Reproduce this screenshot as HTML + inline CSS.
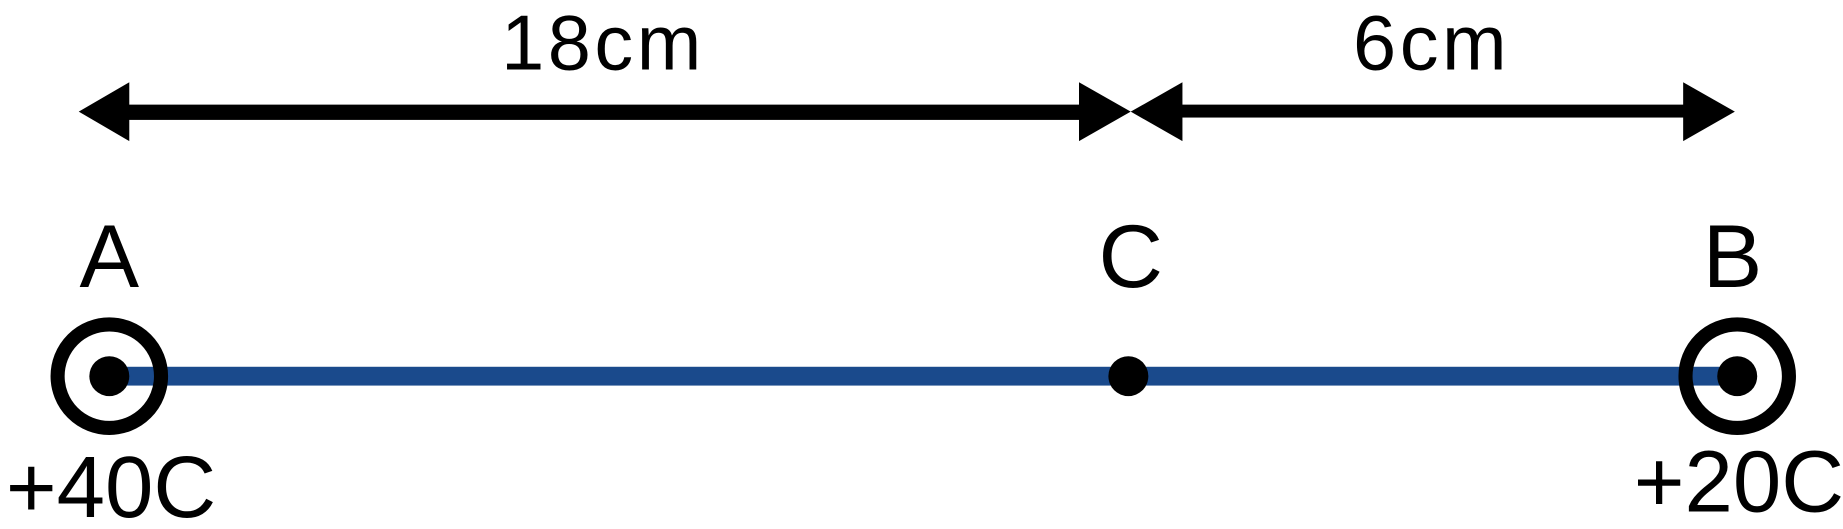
<!DOCTYPE html>
<html><head><meta charset="utf-8"><style>
html,body{margin:0;padding:0;background:#fff;}
svg{display:block;}
text{font-family:"Liberation Sans",sans-serif;fill:#000;}
</style></head><body>
<svg width="1843" height="529" viewBox="0 0 1568 450" preserveAspectRatio="none">
<g>
<rect x="105" y="89" width="818" height="13" fill="#000"/>
<polygon points="67,95 110,70 110,120" fill="#000"/>
<polygon points="962,95 918,70 918,120" fill="#000"/>
</g>
<g>
<rect x="1000" y="89" width="438" height="11" fill="#000"/>
<polygon points="962,95 1006,70 1006,120" fill="#000"/>
<polygon points="1476,95 1432,70 1432,120" fill="#000"/>
</g>
<text x="513" y="59" font-size="66" text-anchor="middle" letter-spacing="3">18cm</text>
<text x="1218" y="59" font-size="66" text-anchor="middle" letter-spacing="3">6cm</text>
<text x="93" y="244" font-size="76" text-anchor="middle">A</text>
<text x="962" y="244" font-size="76" text-anchor="middle">C</text>
<text x="1474" y="244" font-size="76" text-anchor="middle">B</text>
<rect x="93" y="312" width="1385" height="16" fill="#1a4a8c"/>
<circle cx="93" cy="320" r="44" fill="none" stroke="#000" stroke-width="12"/>
<circle cx="93" cy="320" r="17" fill="#000"/>
<circle cx="960" cy="320" r="17" fill="#000"/>
<circle cx="1478" cy="320" r="44" fill="none" stroke="#000" stroke-width="12"/>
<circle cx="1478" cy="320" r="17" fill="#000"/>
<text x="5" y="440" font-size="74">+40C</text>
<text x="1390" y="435" font-size="74">+20C</text>
</svg>
</body></html>
